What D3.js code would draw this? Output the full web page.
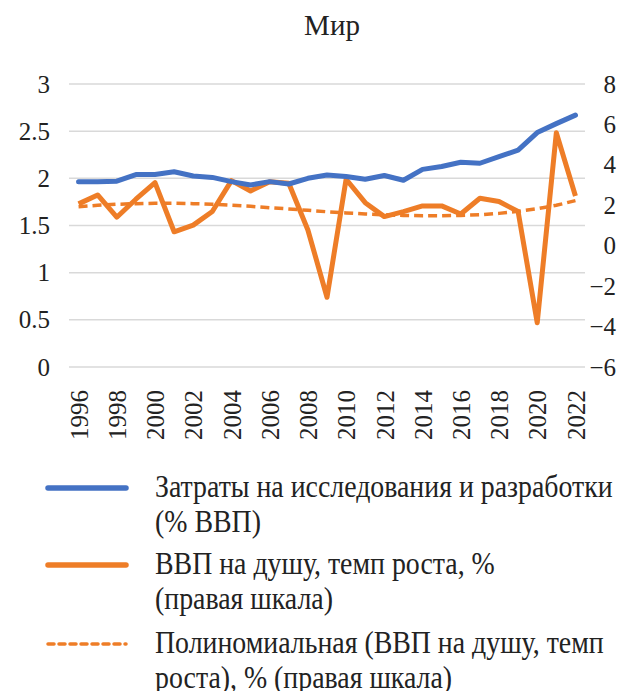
<!DOCTYPE html>
<html>
<head>
<meta charset="utf-8">
<script src="https://cdn.jsdelivr.net/npm/d3@7"></script>
</head>
<body style="margin:0; background:#fff">
<svg id="chart" width="620" height="691"></svg>
<script>
var years = d3.range(1996, 2023);
var yearLabels = years.filter(function (y) { return y % 2 === 0; });

// Затраты на НИОКР, % ВВП (левая шкала)
var rdSpend = [1.965, 1.965, 1.97, 2.04, 2.04, 2.07, 2.025, 2.01, 1.965, 1.93,
  1.965, 1.94, 2.0, 2.035, 2.02, 1.99, 2.03, 1.98, 2.095, 2.125,
  2.17, 2.16, 2.23, 2.30, 2.485, 2.58, 2.67];

// ВВП на душу, темп роста, % (правая шкала)
var gdpGrowth = [2.07, 2.51, 1.41, 2.3, 3.12, 0.69, 1.02, 1.69, 3.22, 2.71,
  3.17, 3.09, 0.78, -2.55, 3.29, 2.13, 1.44, 1.69, 1.97, 1.97,
  1.57, 2.35, 2.19, 1.69, -3.81, 5.59, 2.46];

// Полиномиальная линия тренда
var gdpTrend = [1.93, 2.0, 2.05, 2.08, 2.1, 2.1, 2.08, 2.05, 2.0, 1.95,
  1.88, 1.82, 1.75, 1.68, 1.62, 1.57, 1.53, 1.5, 1.48, 1.48,
  1.5, 1.53, 1.6, 1.7, 1.83, 2.0, 2.23];

var leftTicks = [0, 0.5, 1, 1.5, 2, 2.5, 3];
var rightTicks = [-6, -4, -2, 0, 2, 4, 6, 8];

var blue = "#4472C4", orange = "#EE7D27";
var serif = "'Liberation Serif'";

var svg = d3.select("#chart"),
  margin = { top: 84, right: 35, bottom: 324, left: 69 },
  width = +svg.attr("width") - margin.left - margin.right,
  height = +svg.attr("height") - margin.top - margin.bottom;

var x = d3.scalePoint().domain(years).range([0, width]).padding(0.5);
var yL = d3.scaleLinear().domain([0, 3]).range([height, 0]);
var yR = d3.scaleLinear().domain([-6, 8]).range([height, 0]);

// title
svg.append("text")
  .attr("x", 332).attr("y", 35)
  .attr("text-anchor", "middle")
  .style("font-family", serif)
  .style("font-size", "29px")
  .attr("fill", "#222")
  .text("Мир");

var g = svg.append("g")
  .attr("transform", "translate(" + margin.left + "," + margin.top + ")");

// gridlines
g.append("g")
  .selectAll("line")
  .data(leftTicks)
  .enter().append("line")
  .attr("x1", 0).attr("x2", width)
  .attr("y1", function (d) { return yL(d); })
  .attr("y2", function (d) { return yL(d); })
  .attr("stroke", "#d9d9d9")
  .attr("stroke-width", 1.5);

// left axis
var axL = g.append("g")
  .call(d3.axisLeft(yL).tickValues(leftTicks).tickSize(0).tickPadding(19).tickFormat(d3.format("")));
axL.select(".domain").remove();
axL.selectAll("text")
  .style("font-family", serif).style("font-size", "25px").attr("fill", "#222");

// right axis
var axR = g.append("g")
  .attr("transform", "translate(" + width + ",0)")
  .call(d3.axisRight(yR).tickValues(rightTicks).tickSize(0).tickPadding(31)
    .tickFormat(function (d) { return d < 0 ? "\u2212" + Math.abs(d) : d; }));
axR.select(".domain").remove();
axR.selectAll("text")
  .style("font-family", serif).style("font-size", "25px").attr("fill", "#222")
  .attr("text-anchor", "end");

// x axis
var axX = g.append("g")
  .attr("transform", "translate(0," + height + ")")
  .call(d3.axisBottom(x).tickValues(yearLabels).tickSize(0));
axX.select(".domain").remove();
axX.selectAll("text")
  .style("font-family", serif)
  .style("font-size", "25px")
  .attr("fill", "#222")
  .attr("text-anchor", "end")
  .attr("transform", "rotate(-90)")
  .attr("x", -23)
  .attr("y", 0)
  .attr("dy", "0.35em");

var lineL = d3.line()
  .x(function (d, i) { return x(years[i]); })
  .y(function (d) { return yL(d); });
var lineR = d3.line()
  .x(function (d, i) { return x(years[i]); })
  .y(function (d) { return yR(d); });

g.append("path")
  .datum(gdpTrend)
  .attr("fill", "none")
  .attr("stroke", orange)
  .attr("stroke-width", 3.5)
  .attr("stroke-dasharray", "9,5")
  .attr("d", lineR);

g.append("path")
  .datum(gdpGrowth)
  .attr("fill", "none")
  .attr("stroke", orange)
  .attr("stroke-width", 5)
  .attr("stroke-linejoin", "round")
  .attr("d", lineR);

g.append("path")
  .datum(rdSpend)
  .attr("fill", "none")
  .attr("stroke", blue)
  .attr("stroke-width", 5)
  .attr("stroke-linejoin", "round")
  .attr("stroke-linecap", "round")
  .attr("d", lineL);

// legend (condensed serif, as in the original)
var legend = [
  { color: blue, dash: null, lines: ["Затраты на исследования и разработки", "(% ВВП)"], y: 488 },
  { color: orange, dash: null, lines: ["ВВП на душу, темп роста, %", "(правая шкала)"], y: 565 },
  { color: orange, dash: "6,5", lines: ["Полиномиальная (ВВП на душу, темп", "роста), % (правая шкала)"], y: 644 }
];
var squeeze = 0.87;

var lg = svg.append("g").selectAll("g").data(legend).enter().append("g");
lg.append("line")
  .attr("x1", 48).attr("x2", 126)
  .attr("y1", function (d) { return d.y; })
  .attr("y2", function (d) { return d.y; })
  .attr("stroke", function (d) { return d.color; })
  .attr("stroke-width", function (d) { return d.dash ? 3.5 : 5.5; })
  .attr("stroke-dasharray", function (d) { return d.dash; })
  .attr("stroke-linecap", "round");
lg.each(function (d) {
  var t = d3.select(this);
  d.lines.forEach(function (s, i) {
    t.append("text")
      .attr("transform", "translate(155," + (d.y + 9 + i * 34.5) + ") scale(" + squeeze + ",1)")
      .style("font-family", serif)
      .style("font-size", "32px")
      .attr("fill", "#222")
      .text(s);
  });
});
</script>
</body>
</html>
